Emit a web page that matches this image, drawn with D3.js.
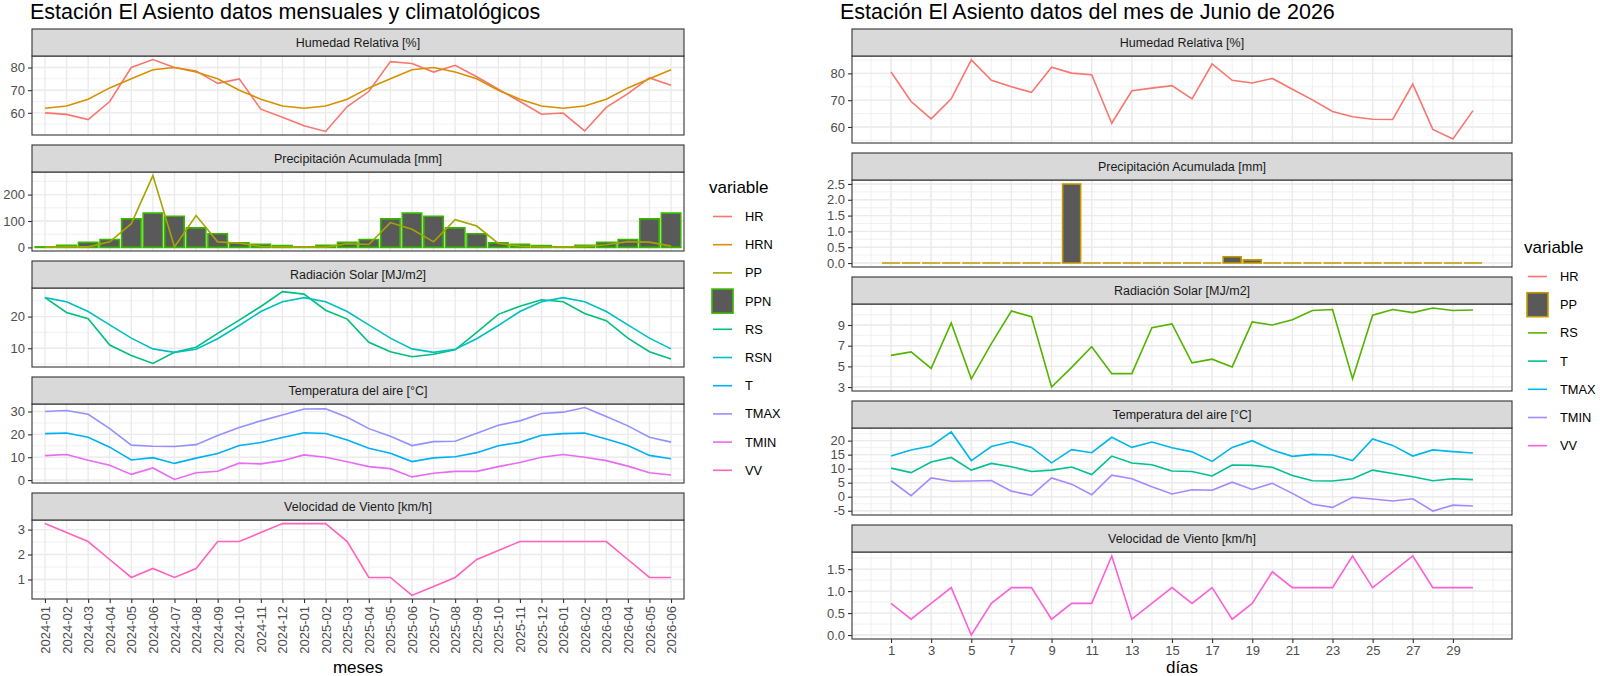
<!DOCTYPE html>
<html>
<head>
<meta charset="utf-8">
<script src="https://cdn.jsdelivr.net/npm/d3@7"></script>
<style>
  body { margin: 0; background: #fff; }
  svg { display: block; }
</style>
</head>
<body>
<svg width="1600" height="676"></svg>
<script>
var svg = d3.select("svg");
var FUENTE = '"Liberation Sans", Arial, sans-serif';

// ---- datos mensuales (izquierda) ----
var meses = ["2024-01", "2024-02", "2024-03", "2024-04", "2024-05", "2024-06",
  "2024-07", "2024-08", "2024-09", "2024-10", "2024-11", "2024-12",
  "2025-01", "2025-02", "2025-03", "2025-04", "2025-05", "2025-06",
  "2025-07", "2025-08", "2025-09", "2025-10", "2025-11", "2025-12",
  "2026-01", "2026-02", "2026-03", "2026-04", "2026-05", "2026-06"];
var hrMes = [60, 59.3, 57, 65, 80, 83.5, 80, 78.5, 73, 75, 61.6, 58, 54.3, 51.8, 62.8,
  69.4, 82.6, 81.8, 78, 81, 75.9, 70.4, 65, 59.4, 59.9, 52, 62.4, 68.5, 75.4, 72.2];
var hrnMes = [62, 63, 66, 71, 75, 79, 80, 78, 75, 70, 66, 63, 62, 63, 66,
  71, 75, 79, 80, 78, 75, 70, 66, 63, 62, 63, 66, 71, 75, 79];
var ppMes = [1, 2, 2, 21, 90, 272, 2, 121, 21, 16, 4, 2, 1, 1, 14,
  11, 94, 69, 21, 105, 81, 15, 5, 2, 1, 4, 10, 22, 20, 5];
var ppnMes = [2, 8, 19, 30, 108, 130, 118, 74, 52, 17, 12, 7, 2, 8, 19,
  30, 108, 130, 118, 74, 52, 17, 12, 7, 2, 8, 19, 30, 108, 130];
var rsMes = [26, 21.3, 19.3, 11, 7.7, 5.2, 8.7, 10.3, 14.7, 18.9, 23.2, 27.9, 27.1, 22, 19.2,
  11.9, 8.9, 7.3, 8.1, 9.5, 15, 20.7, 23.3, 25.3, 24.7, 21, 18.7, 13.2, 8.9, 6.6];
var rsnMes = [26, 24.7, 21.6, 17.4, 13.2, 9.8, 8.7, 9.7, 13, 17.2, 21.6, 24.7, 26, 24.7, 21.6,
  17.4, 13.2, 9.8, 8.7, 9.7, 13, 17.2, 21.6, 24.7, 26, 24.7, 21.6, 17.4, 13.2, 9.8];
var tMes = [20.3, 20.6, 18.7, 14.4, 8.8, 9.8, 7.3, 9.6, 11.6, 15.1, 16.4, 18.6, 20.7, 20.4, 17.5,
  13.9, 11.7, 8.1, 9.7, 10.2, 12, 15, 16.5, 19.6, 20.3, 20.6, 18, 15.1, 10.8, 9.3];
var tmaxMes = [30, 30.4, 28.8, 22.5, 15.3, 14.8, 14.7, 15.5, 19.5, 23, 25.9, 28.5, 31.1, 31.2, 27.5,
  22.5, 19.2, 15.1, 16.8, 17, 20.5, 24, 25.9, 29.1, 29.7, 31.7, 27.8, 23.7, 18.7, 16.6];
var tminMes = [10.7, 11.2, 8.7, 6.5, 2.5, 5.3, 0.3, 3.2, 3.9, 7.4, 7.1, 8.5, 11, 10, 8,
  5.9, 5, 1.4, 3, 3.8, 3.8, 5.9, 7.7, 10, 11.2, 10, 8.5, 6.1, 3.2, 2.2];
var vvMes = [3.24, 2.88, 2.52, 1.8, 1.08, 1.44, 1.08, 1.44, 2.52, 2.52, 2.88, 3.24, 3.24, 3.24, 2.52,
  1.08, 1.08, 0.36, 0.72, 1.08, 1.8, 2.16, 2.52, 2.52, 2.52, 2.52, 2.52, 1.8, 1.08, 1.08];

var cortesHRMes = [60, 70, 80];
var cortesPPMes = [0, 100, 200];
var cortesRSMes = [10, 20];
var cortesTMes = [0, 10, 20, 30];
var cortesVVMes = [1, 2, 3];

// ---- datos diarios, junio 2026 (derecha) ----
var dias = [1, 2, 3, 4, 5, 6, 7, 8, 9, 10, 11, 12, 13, 14, 15,
  16, 17, 18, 19, 20, 21, 22, 23, 24, 25, 26, 27, 28, 29, 30];
var hrDia = [80.5, 69.5, 63, 70.5, 85, 77.4, 75, 72.9, 82.3, 80.1, 79.5, 61.4, 73.5, 74.5, 75.4,
  70.5, 83.5, 77.4, 76.4, 78.1, 74.1, 70.1, 65.8, 63.8, 62.9, 62.8, 76, 59.1, 55.5, 66.1];
var ppDia = [0, 0, 0, 0, 0, 0, 0, 0, 0, 2.5, 0, 0, 0, 0, 0,
  0, 0, 0.2, 0.1, 0, 0, 0, 0, 0, 0, 0, 0, 0, 0, 0];
var rsDia = [6.06, 6.4, 4.8, 9.2, 3.8, 7.2, 10.35, 9.8, 3.0, 4.9, 6.9, 4.3, 4.3, 8.75, 9.1,
  5.35, 5.7, 4.95, 9.3, 9.0, 9.5, 10.4, 10.5, 3.8, 9.95, 10.5, 10.2, 10.65, 10.4, 10.45];
var tDia = [10.2, 8.6, 12.4, 14, 9.5, 11.9, 10.7, 9, 9.5, 10.6, 7.9, 14.5, 12, 11.4, 9.2,
  9, 7.4, 11.3, 11.2, 10.5, 7.6, 5.7, 5.6, 6.4, 9.5, 8.3, 7.1, 5.7, 6.4, 6.1];
var tmaxDia = [14.5, 16.7, 18.1, 23.1, 12.9, 17.9, 19.6, 17.6, 12.1, 16.8, 15.7, 21.2, 17.6, 19.5, 17.5,
  16, 12.6, 17.6, 20, 16.7, 14.4, 15.1, 14.9, 12.9, 20.6, 18.3, 14.5, 16.7, 16.1, 15.6];
var tminDia = [5.7, 0.4, 6.7, 5.5, 5.6, 5.8, 2, 0.5, 6.7, 4.5, 0.7, 7.7, 6.4, 3.6, 1,
  2.5, 2.3, 5.2, 2.6, 4.8, 1.2, -2.7, -3.8, -0.2, -0.8, -1.5, -0.7, -5.1, -3, -3.3];
var vvDia = [0.72, 0.36, 0.72, 1.08, 0, 0.72, 1.08, 1.08, 0.36, 0.72, 0.72, 1.8, 0.36, 0.72, 1.08,
  0.72, 1.08, 0.36, 0.72, 1.44, 1.08, 1.08, 1.08, 1.8, 1.08, 1.44, 1.8, 1.08, 1.08, 1.08];

var cortesDias = [1, 3, 5, 7, 9, 11, 13, 15, 17, 19, 21, 23, 25, 27, 29];
var cortesHRDia = [60, 70, 80];
var cortesPPDia = [0, 0.5, 1, 1.5, 2, 2.5];
var cortesRSDia = [3, 5, 7, 9];
var cortesTDia = [-5, 0, 5, 10, 15, 20];
var cortesVVDia = [0, 0.5, 1, 1.5];

var variablesMes = ["HR", "HRN", "PP", "PPN", "RS", "RSN", "T", "TMAX", "TMIN", "VV"];
var variablesDia = ["HR", "PP", "RS", "T", "TMAX", "TMIN", "VV"];

// paleta por defecto de ggplot
var coloresMes = {HR: "#F8766D", HRN: "#D89000", PP: "#A3A500", PPN: "#39B600", RS: "#00BF7D",
  RSN: "#00BFC4", T: "#00B0F6", TMAX: "#9590FF", TMIN: "#E76BF3", VV: "#FF62BC"};
var coloresDia = {HR: "#F8766D", PP: "#C49A00", RS: "#53B400", T: "#00C094",
  TMAX: "#00B6EB", TMIN: "#A58AFF", VV: "#FB61D7"};

var panelesMes = [
  {titulo: "Humedad Relativa [%]", cortes: cortesHRMes, lineas: [["HR", hrMes], ["HRN", hrnMes]]},
  {titulo: "Precipitación Acumulada [mm]", cortes: cortesPPMes, barras: ["PPN", ppnMes], lineas: [["PP", ppMes]]},
  {titulo: "Radiación Solar [MJ/m2]", cortes: cortesRSMes, lineas: [["RS", rsMes], ["RSN", rsnMes]]},
  {titulo: "Temperatura del aire [°C]", cortes: cortesTMes, lineas: [["T", tMes], ["TMAX", tmaxMes], ["TMIN", tminMes]]},
  {titulo: "Velocidad de Viento [km/h]", cortes: cortesVVMes, lineas: [["VV", vvMes]]}
];
var panelesDia = [
  {titulo: "Humedad Relativa [%]", cortes: cortesHRDia, lineas: [["HR", hrDia]]},
  {titulo: "Precipitación Acumulada [mm]", cortes: cortesPPDia, formato: ".1f", barras: ["PP", ppDia], lineas: []},
  {titulo: "Radiación Solar [MJ/m2]", cortes: cortesRSDia, lineas: [["RS", rsDia]]},
  {titulo: "Temperatura del aire [°C]", cortes: cortesTDia, lineas: [["T", tDia], ["TMAX", tmaxDia], ["TMIN", tminDia]]},
  {titulo: "Velocidad de Viento [km/h]", cortes: cortesVVDia, formato: ".1f", lineas: [["VV", vvDia]]}
];

var STRIP_H = 27;
var GRIS_TXT = "#4D4D4D";
var PASO_LEYENDA = 28.2;

/**
 * rango de datos con 5% de expansion (como ggplot)
 */
function expandir(valores) {
  var ext = d3.extent(valores);
  var d = (ext[1] - ext[0]) * 0.05;
  return [ext[0] - d, ext[1] + d];
}

/**
 * cortes menores: mitades entre cortes, un paso mas a cada lado
 */
function menores(cortes, dominio) {
  var paso = cortes[1] - cortes[0];
  var out = [];
  for (var k = -2; k <= 2 * (cortes.length - 1) + 2; k++) {
    var v = cortes[0] + k * paso / 2;
    if (v >= dominio[0] && v <= dominio[1]) out.push(v);
  }
  return out;
}

function estiloEje(ga) {
  ga.select(".domain").remove();
  ga.attr("font-family", FUENTE).attr("font-size", 13);
  ga.selectAll(".tick line").attr("stroke", "#333333").attr("stroke-width", 1.1);
  ga.selectAll(".tick text").attr("fill", GRIS_TXT);
}

function formatoNum(f) {
  if (f) return d3.format(f);
  return function(d) { return String(d); };
}

/**
 * un panel de facet: strip, rejilla, barras, lineas, borde, eje y
 */
function dibujarPanel(g, cfg, i, panel, x, cats, colores) {
  var stripTop = cfg.top + i * (STRIP_H + cfg.alto + cfg.gap);
  var top = stripTop + STRIP_H;
  var bottom = top + cfg.alto;

  var todos = [];
  panel.lineas.forEach(function(s) { todos = todos.concat(s[1]); });
  if (panel.barras) todos = todos.concat(panel.barras[1], [0]);
  var y = d3.scaleLinear().domain(expandir(todos)).range([bottom, top]);

  // fondo
  g.append("rect").attr("x", cfg.left).attr("y", top)
    .attr("width", cfg.right - cfg.left).attr("height", cfg.alto).attr("fill", "#fff");

  // rejilla menor y mayor
  var gr = g.append("g").attr("stroke", "#EBEBEB");
  gr.selectAll("line.hmin").data(menores(panel.cortes, y.domain())).enter().append("line")
    .attr("x1", cfg.left).attr("x2", cfg.right)
    .attr("y1", function(d) { return y(d); }).attr("y2", function(d) { return y(d); })
    .attr("stroke-width", 0.7);
  gr.selectAll("line.vmin").data(cfg.xMenores).enter().append("line")
    .attr("y1", top).attr("y2", bottom)
    .attr("x1", function(d) { return x(d); }).attr("x2", function(d) { return x(d); })
    .attr("stroke-width", 0.7);
  gr.selectAll("line.hmay").data(panel.cortes).enter().append("line")
    .attr("x1", cfg.left).attr("x2", cfg.right)
    .attr("y1", function(d) { return y(d); }).attr("y2", function(d) { return y(d); })
    .attr("stroke-width", 1.4);
  gr.selectAll("line.vmay").data(cfg.xMayores).enter().append("line")
    .attr("y1", top).attr("y2", bottom)
    .attr("x1", function(d) { return x(d); }).attr("x2", function(d) { return x(d); })
    .attr("stroke-width", 1.4);

  // barras (path para que las de altura 0 muestren el borde)
  if (panel.barras) {
    var nombre = panel.barras[0];
    g.append("g").selectAll("path").data(panel.barras[1]).enter().append("path")
      .attr("d", function(d, k) {
        var x0 = x(cats[k]) - cfg.anchoBarra / 2, x1 = x0 + cfg.anchoBarra;
        return "M" + x0 + "," + y(0) + "V" + y(d) + "H" + x1 + "V" + y(0) + "Z";
      })
      .attr("fill", "#595959").attr("stroke", colores[nombre]).attr("stroke-width", 1.6);
  }

  // lineas
  var linea = d3.line()
    .x(function(d, k) { return x(cats[k]); })
    .y(function(d) { return y(d); });
  panel.lineas.forEach(function(s) {
    g.append("path").datum(s[1]).attr("d", linea)
      .attr("fill", "none").attr("stroke", colores[s[0]]).attr("stroke-width", 1.6);
  });

  // borde del panel
  g.append("rect").attr("x", cfg.left).attr("y", top)
    .attr("width", cfg.right - cfg.left).attr("height", cfg.alto)
    .attr("fill", "none").attr("stroke", "#333333").attr("stroke-width", 1.1);

  // strip
  g.append("rect").attr("x", cfg.left).attr("y", stripTop)
    .attr("width", cfg.right - cfg.left).attr("height", STRIP_H)
    .attr("fill", "#D9D9D9").attr("stroke", "#333333").attr("stroke-width", 1.1);
  g.append("text").attr("x", (cfg.left + cfg.right) / 2).attr("y", stripTop + STRIP_H / 2 + 4.5)
    .attr("text-anchor", "middle").attr("font-family", FUENTE).attr("font-size", 12.5)
    .attr("fill", "#1A1A1A").text(panel.titulo);

  // eje y
  var ejeY = d3.axisLeft(y).tickValues(panel.cortes).tickSize(4).tickPadding(3)
    .tickFormat(formatoNum(panel.formato));
  var ga = g.append("g").attr("transform", "translate(" + cfg.left + ",0)").call(ejeY);
  estiloEje(ga);

  return bottom;
}

function dibujarLeyenda(g, x0, yTitulo, nombres, colores, barra) {
  g.append("text").attr("x", x0).attr("y", yTitulo + 6)
    .attr("font-family", FUENTE).attr("font-size", 17).attr("fill", "#000").text("variable");
  nombres.forEach(function(n, k) {
    var cy = yTitulo + 29.5 + k * PASO_LEYENDA;
    if (n === barra) {
      g.append("rect").attr("x", x0 + 3).attr("y", cy - 12).attr("width", 21).attr("height", 24)
        .attr("fill", "#595959").attr("stroke", colores[n]).attr("stroke-width", 1.6);
    } else {
      g.append("line").attr("x1", x0 + 4).attr("x2", x0 + 23).attr("y1", cy).attr("y2", cy)
        .attr("stroke", colores[n]).attr("stroke-width", 1.6);
    }
    g.append("text").attr("x", x0 + 36).attr("y", cy + 4.5)
      .attr("font-family", FUENTE).attr("font-size", 12.8).attr("fill", "#000").text(n);
  });
}

function graficoMensual() {
  var g = svg.append("g");
  var cfg = {left: 32, right: 684, top: 29, alto: 79, gap: 10};
  var x = d3.scalePoint().domain(meses).range([cfg.left, cfg.right]).padding(0.6);
  cfg.xMayores = meses;
  cfg.xMenores = [];
  cfg.anchoBarra = x.step() * 0.9;

  g.append("text").attr("x", 30).attr("y", 19).attr("font-family", FUENTE)
    .attr("font-size", 21.5).attr("fill", "#000")
    .text("Estación El Asiento datos mensuales y climatológicos");

  var bottom = 0;
  panelesMes.forEach(function(p, i) {
    bottom = dibujarPanel(g, cfg, i, p, x, meses, coloresMes);
  });

  var gx = g.append("g").attr("transform", "translate(0," + bottom + ")")
    .call(d3.axisBottom(x).tickSize(4));
  estiloEje(gx);
  gx.selectAll(".tick text").attr("transform", "rotate(-90)").attr("text-anchor", "end")
    .attr("x", -7).attr("y", 0).attr("dy", "0.35em");

  g.append("text").attr("x", (cfg.left + cfg.right) / 2).attr("y", 673)
    .attr("text-anchor", "middle").attr("font-family", FUENTE).attr("font-size", 17)
    .attr("fill", "#000").text("meses");

  dibujarLeyenda(g, 709, 187, variablesMes, coloresMes, "PPN");
}

function graficoDiario() {
  var g = svg.append("g");
  var cfg = {left: 852, right: 1512, top: 29, alto: 87, gap: 10};
  // la escala x se entrena con el ancho de las barras (0.9 dia)
  var x = d3.scaleLinear()
    .domain(expandir([d3.min(dias) - 0.45, d3.max(dias) + 0.45]))
    .range([cfg.left, cfg.right]);
  cfg.xMayores = cortesDias;
  cfg.xMenores = menores(cortesDias, x.domain());
  cfg.anchoBarra = (x(2) - x(1)) * 0.9;

  g.append("text").attr("x", 840).attr("y", 19).attr("font-family", FUENTE)
    .attr("font-size", 21.5).attr("fill", "#000")
    .text("Estación El Asiento datos del mes de Junio de 2026");

  var bottom = 0;
  panelesDia.forEach(function(p, i) {
    bottom = dibujarPanel(g, cfg, i, p, x, dias, coloresDia);
  });

  var gx = g.append("g").attr("transform", "translate(0," + bottom + ")")
    .call(d3.axisBottom(x).tickValues(cortesDias).tickSize(4).tickPadding(3)
      .tickFormat(function(d) { return String(d); }));
  estiloEje(gx);

  g.append("text").attr("x", (cfg.left + cfg.right) / 2).attr("y", 673)
    .attr("text-anchor", "middle").attr("font-family", FUENTE).attr("font-size", 17)
    .attr("fill", "#000").text("días");

  dibujarLeyenda(g, 1524, 247, variablesDia, coloresDia, "PP");
}

function main() {
  graficoMensual();
  graficoDiario();
}
main();
</script>
</body>
</html>
